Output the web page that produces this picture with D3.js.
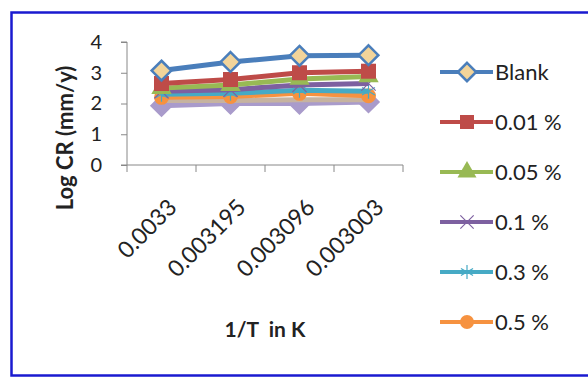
<!DOCTYPE html>
<html lang="en">
<head>
  <meta charset="UTF-8" />
  <title>Log CR vs 1/T</title>
  <style>
    body { margin: 0; background: #fff; }
    svg text { font-family: Lato, "Open Sans", sans-serif; fill: #222; }
  </style>
</head>
<body>
<div id="chart"></div>
<script src="https://cdn.jsdelivr.net/npm/d3@7/dist/d3.min.js"></script>
<script>
// data
var categories = ["0.0033", "0.003195", "0.003096", "0.003003"];
var seriesNames = ["Blank", "0.01 %", "0.05 %", "0.1 %", "0.3 %", "0.5 %", "1 %", "2 %"];
var blank = [3.07, 3.35, 3.55, 3.57];
var c001 = [2.65, 2.78, 3.0, 3.05];
var c005 = [2.5, 2.6, 2.8, 2.88];
var c01 = [2.4, 2.45, 2.6, 2.65];
var c03 = [2.3, 2.33, 2.43, 2.4];
var c05 = [2.2, 2.23, 2.33, 2.25];
var c1 = [2.1, 2.1, 2.12, 2.12];
var c2 = [1.93, 2.0, 2.0, 2.05];
var yTicks = [0, 1, 2, 3, 4];

var allValues = [blank, c001, c005, c01, c03, c05, c1, c2];
var colors = ["#4A7EBB", "#BE4B48", "#98B954", "#7D60A0", "#46AAC5", "#F69240", "#C6B3A0", "#A99BCB"];
var markers = ["diamond", "square", "triangle", "x", "star", "circle", "none", "diamond"];
var inLegend = 6;

var W = 588, H = 378;
var svg = d3.select("#chart").append("svg")
  .attr("width", W).attr("height", H);

// outer frame
svg.append("rect")
  .attr("x", 11.5).attr("y", 12.5)
  .attr("width", 600).attr("height", 363)
  .attr("fill", "#fff")
  .attr("stroke", "#1a1ad0").attr("stroke-width", 2.5);

var plot = {left: 127, right: 403, top: 42, bottom: 165};

var x = d3.scaleBand().domain(categories).range([plot.left, plot.right]);
var y = d3.scaleLinear().domain([0, 4]).range([plot.bottom, plot.top]);

// y axis
var yAxis = svg.append("g")
  .attr("transform", "translate(" + plot.left + ",0)")
  .call(d3.axisLeft(y).tickValues(yTicks).tickFormat(d3.format("d")).tickSize(6).tickPadding(19));
yAxis.select(".domain").attr("stroke", "#888").attr("d", "M-6," + plot.top + "H0V" + plot.bottom + "H-6");
yAxis.selectAll(".tick line").attr("stroke", "#888");
yAxis.selectAll("text").style("font-size", "20px").attr("fill", "#222");

// x axis
var xAxis = svg.append("g")
  .attr("transform", "translate(0," + plot.bottom + ")")
  .call(d3.axisBottom(x).tickSize(0).tickFormat(""));
xAxis.select(".domain").attr("stroke", "#888").attr("d", "M" + plot.left + ",0H" + plot.right);
var bounds = [plot.left].concat(categories.map(function(d) { return x(d) + x.bandwidth(); }));
xAxis.selectAll(".bound").data(bounds).enter().append("line")
  .attr("x1", function(d) { return d; }).attr("x2", function(d) { return d; })
  .attr("y1", 0).attr("y2", 7).attr("stroke", "#888");

svg.selectAll(".xlab").data(categories).enter().append("text")
  .attr("class", "xlab")
  .attr("text-anchor", "end")
  .style("font-size", "23px")
  .attr("transform", function(d) {
    return "translate(" + (x(d) + x.bandwidth() / 2 + 11) + "," + (plot.bottom + 38) + ") rotate(-45)";
  })
  .attr("dy", "0.35em")
  .text(function(d) { return d; });

// axis titles
svg.append("text")
  .attr("transform", "translate(65,138) rotate(-90)")
  .attr("text-anchor", "middle")
  .attr("dy", "0.35em")
  .style("font-size", "22px").style("font-weight", "bold")
  .text("Log CR (mm/y)");
svg.append("text")
  .attr("x", 265).attr("y", 337)
  .attr("text-anchor", "middle")
  .style("font-size", "21px").style("font-weight", "bold")
  .style("white-space", "pre")
  .text("1/T  in K");

function drawMarker(g, type, color, size) {
  var s = size;
  if (type === "diamond") {
    g.append("path").attr("d", d3.symbol().type(d3.symbolDiamond2).size(s * s * 1.1))
      .attr("fill", color === colors[0] ? "#F2D49A" : color)
      .attr("stroke", color).attr("stroke-width", 2.5);
  } else if (type === "square") {
    g.append("rect").attr("x", -s / 2).attr("y", -s / 2).attr("width", s).attr("height", s)
      .attr("fill", color);
  } else if (type === "triangle") {
    g.append("path").attr("d", d3.symbol().type(d3.symbolTriangle).size(s * s * 0.8))
      .attr("fill", color);
  } else if (type === "x") {
    g.append("path").attr("d", d3.symbol().type(d3.symbolTimes).size(s * s * 0.6))
      .attr("fill", "none").attr("stroke", color).attr("stroke-width", 1.2);
  } else if (type === "star") {
    g.append("path").attr("d", d3.symbol().type(d3.symbolAsterisk).size(s * s * 0.7))
      .attr("fill", "none").attr("stroke", color).attr("stroke-width", 1.2);
  } else if (type === "circle") {
    g.append("circle").attr("r", s / 2).attr("fill", color);
  }
}

var line = d3.line()
  .x(function(d, i) { return x(categories[i]) + x.bandwidth() / 2; })
  .y(function(d) { return y(d); });

// draw bottom series first so Blank ends on top
for (var k = allValues.length - 1; k >= 0; k--) {
  var vals = allValues[k];
  svg.append("path")
    .datum(vals)
    .attr("d", line)
    .attr("fill", "none")
    .attr("stroke", colors[k])
    .attr("stroke-width", 5)
    .attr("stroke-linejoin", "round");
  var pts = svg.selectAll(".pt" + k).data(vals).enter().append("g")
    .attr("class", "pt" + k)
    .attr("transform", function(d, i) {
      return "translate(" + (x(categories[i]) + x.bandwidth() / 2) + "," + y(d) + ")";
    });
  pts.each(function() { drawMarker(d3.select(this), markers[k], colors[k], 15); });
}

// legend
var legend = svg.selectAll(".leg").data(seriesNames.slice(0, inLegend)).enter().append("g")
  .attr("class", "leg")
  .attr("transform", function(d, i) { return "translate(440," + (72 + i * 50) + ")"; });
legend.append("line")
  .attr("x1", 0).attr("x2", 53).attr("y1", 0).attr("y2", 0)
  .attr("stroke", function(d, i) { return colors[i]; })
  .attr("stroke-width", 4);
legend.each(function(d, i) {
  var g = d3.select(this).append("g").attr("transform", "translate(27,0)");
  drawMarker(g, markers[i], colors[i], 14);
});
legend.append("text")
  .attr("x", 55).attr("y", 0).attr("dy", "0.36em")
  .style("font-size", "22px")
  .text(function(d) { return d; });
</script>
</body>
</html>
